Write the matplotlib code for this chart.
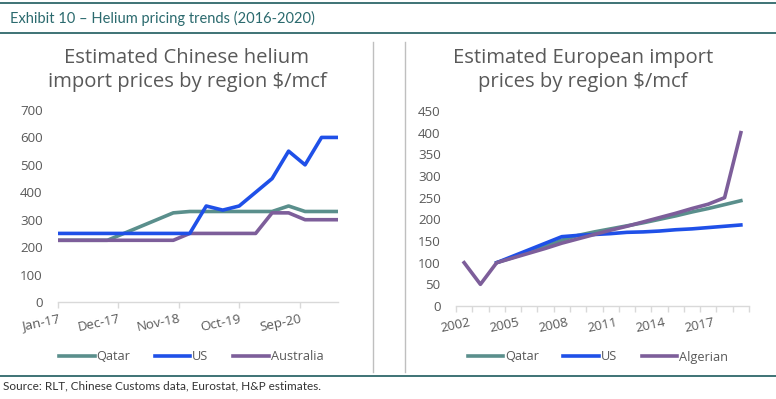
import matplotlib
matplotlib.use("Agg")
import matplotlib.pyplot as plt
from matplotlib.lines import Line2D

plt.rcParams['font.family'] = ['Open Sans', 'DejaVu Sans']

# ---- Left chart data (Chinese import prices, quarterly from Jan-17) ----
cn_months = [0, 3, 6, 9, 12, 15, 18, 21, 24, 27, 30, 33, 36, 39, 42, 45, 48, 51]
cn_qatar = [225, 225, 225, 225, 250, 275, 300, 325, 330, 330, 330, 330, 330, 330, 350, 330, 330, 330]
cn_us = [250, 250, 250, 250, 250, 250, 250, 250, 250, 350, 335, 350, 400, 450, 550, 500, 600, 600]
cn_aus = [225, 225, 225, 225, 225, 225, 225, 225, 250, 250, 250, 250, 250, 325, 325, 300, 300, 300]
cn_tick_months = [0, 11, 22, 33, 44]
cn_tick_labels = ['Jan-17', 'Dec-17', 'Nov-18', 'Oct-19', 'Sep-20']

# ---- Right chart data (European import prices, yearly) ----
eu_years = list(range(2002, 2020))
eu_qatar = [None, None, 100, 112, 125, 138, 152, 163, 171, 178, 185, 192, 200, 208, 217, 225, 234, 243]
eu_us = [None, None, 100, 115, 130, 145, 160, 163, 165, 167, 170, 171, 173, 176, 178, 181, 184, 187]
eu_alg = [100, 50, 100, 111, 122, 133, 145, 155, 165, 175, 184, 194, 204, 214, 225, 235, 250, 400]
eu_tick_labels = ['2002', '2005', '2008', '2011', '2014', '2017']

TEAL = '#5A8F8C'
BLUE = '#1F50E8'
PURPLE = '#7D5E9A'
GREY = '#595959'
AXIS = '#D9D9D9'
DARK = '#1E5B5E'
FS = 9.6

W, H = 776, 399
fig = plt.figure(figsize=(W / 100, H / 100), dpi=100)


def px_axes(x0, y0, x1, y1):
    return fig.add_axes([x0 / W, 1 - y1 / H, (x1 - x0) / W, (y1 - y0) / H])


def style(ax):
    for s in ['top', 'right', 'left']:
        ax.spines[s].set_visible(False)
    ax.spines['bottom'].set_color(AXIS)
    ax.spines['bottom'].set_linewidth(1.0)
    ax.tick_params(axis='y', length=0, labelsize=FS, labelcolor=GREY, pad=11)
    ax.tick_params(axis='x', colors=AXIS, labelcolor=GREY, labelsize=FS, length=4, width=1.0)
    ax.set_facecolor('none')


# Left axes
ax1 = px_axes(58, 110, 338, 302)
ax1.plot(cn_months, cn_qatar, color=TEAL, lw=2.6, solid_capstyle='butt', zorder=2)
ax1.plot(cn_months, cn_aus, color=PURPLE, lw=2.6, solid_capstyle='butt', zorder=3)
ax1.plot(cn_months, cn_us, color=BLUE, lw=2.6, solid_capstyle='butt', zorder=4)
ax1.set_ylim(0, 700)
ax1.set_yticks(range(0, 701, 100))
ax1.set_xlim(0, 51)
ax1.set_xticks(cn_tick_months)
ax1.set_xticklabels(cn_tick_labels, rotation=12, ha='right', rotation_mode='anchor')
style(ax1)

# Right axes
ax2 = px_axes(456, 111, 749, 306)
xs = list(range(len(eu_years)))
ax2.plot(xs, [float('nan') if v is None else v for v in eu_qatar], color=TEAL, lw=2.6, zorder=2)
ax2.plot(xs, [float('nan') if v is None else v for v in eu_us], color=BLUE, lw=2.6, zorder=3)
ax2.plot(xs, eu_alg, color=PURPLE, lw=2.6, zorder=4)
ax2.set_ylim(0, 450)
ax2.set_yticks(range(0, 451, 50))
ax2.set_xlim(-0.5, len(eu_years) - 0.5)
ax2.set_xticks([i - 0.5 for i in range(len(eu_years) + 1)], minor=False)
ax2.set_xticklabels([])
lab_pos = [eu_years.index(int(t)) for t in eu_tick_labels]
for p, t in zip(lab_pos, eu_tick_labels):
    ax2.text(p + 0.3, -22, t, rotation=12, ha='right', va='top', rotation_mode='anchor',
             fontsize=FS, color=GREY, transform=ax2.transData, clip_on=False)
style(ax2)

# Titles
TS = 14.6
fig.text(187 / W, 1 - 58 / H, 'Estimated Chinese helium', ha='center', va='center',
         fontsize=TS, color=GREY)
fig.text(187 / W, 1 - 82 / H, 'import prices by region $/mcf', ha='center', va='center',
         fontsize=TS, color=GREY)
fig.text(583 / W, 1 - 58 / H, 'Estimated European import', ha='center', va='center',
         fontsize=TS, color=GREY)
fig.text(583 / W, 1 - 82 / H, 'prices by region $/mcf', ha='center', va='center',
         fontsize=TS, color=GREY)

# Legends
def legend(cx, labels):
    handles = [Line2D([], [], color=c, lw=2.6) for c in (TEAL, BLUE, PURPLE)]
    leg = fig.legend(handles, labels, loc='center', bbox_to_anchor=(cx / W, 1 - 357 / H),
                     ncol=3, frameon=False, fontsize=9.2, handlelength=2.8,
                     handletextpad=0.15, columnspacing=1.9, labelcolor=GREY)
    return leg

legend(191, ['Qatar', 'US', 'Australia'])
legend(598, ['Qatar', 'US', 'Algerian'])

# Header / frame lines
fig.add_artist(Line2D([0, 1], [1 - 3 / H, 1 - 3 / H], color=DARK, lw=1.2))
fig.add_artist(Line2D([0, 1], [1 - 33 / H, 1 - 33 / H], color=DARK, lw=1.2))
fig.add_artist(Line2D([0, 1], [1 - 376 / H, 1 - 376 / H], color=DARK, lw=1.2))
fig.add_artist(Line2D([373 / W, 373 / W], [1 - 42 / H, 1 - 372 / H], color='#BFBFBF', lw=1.0))
fig.add_artist(Line2D([405 / W, 405 / W], [1 - 42 / H, 1 - 372 / H], color='#BFBFBF', lw=1.0))

fig.text(10 / W, 1 - 18 / H, 'Exhibit 10 \u2013 Helium pricing trends (2016-2020)', ha='left',
         va='center', fontsize=10.5, color='#2B6A6E', family=['Lato', 'DejaVu Sans'])
fig.text(3 / W, 1 - 386 / H, 'Source: RLT, Chinese Customs data, Eurostat, H&P estimates.',
         ha='left', va='center', fontsize=8.5, color='#333333', family=['Lato', 'DejaVu Sans'])

fig.savefig('out.png', dpi=100)
